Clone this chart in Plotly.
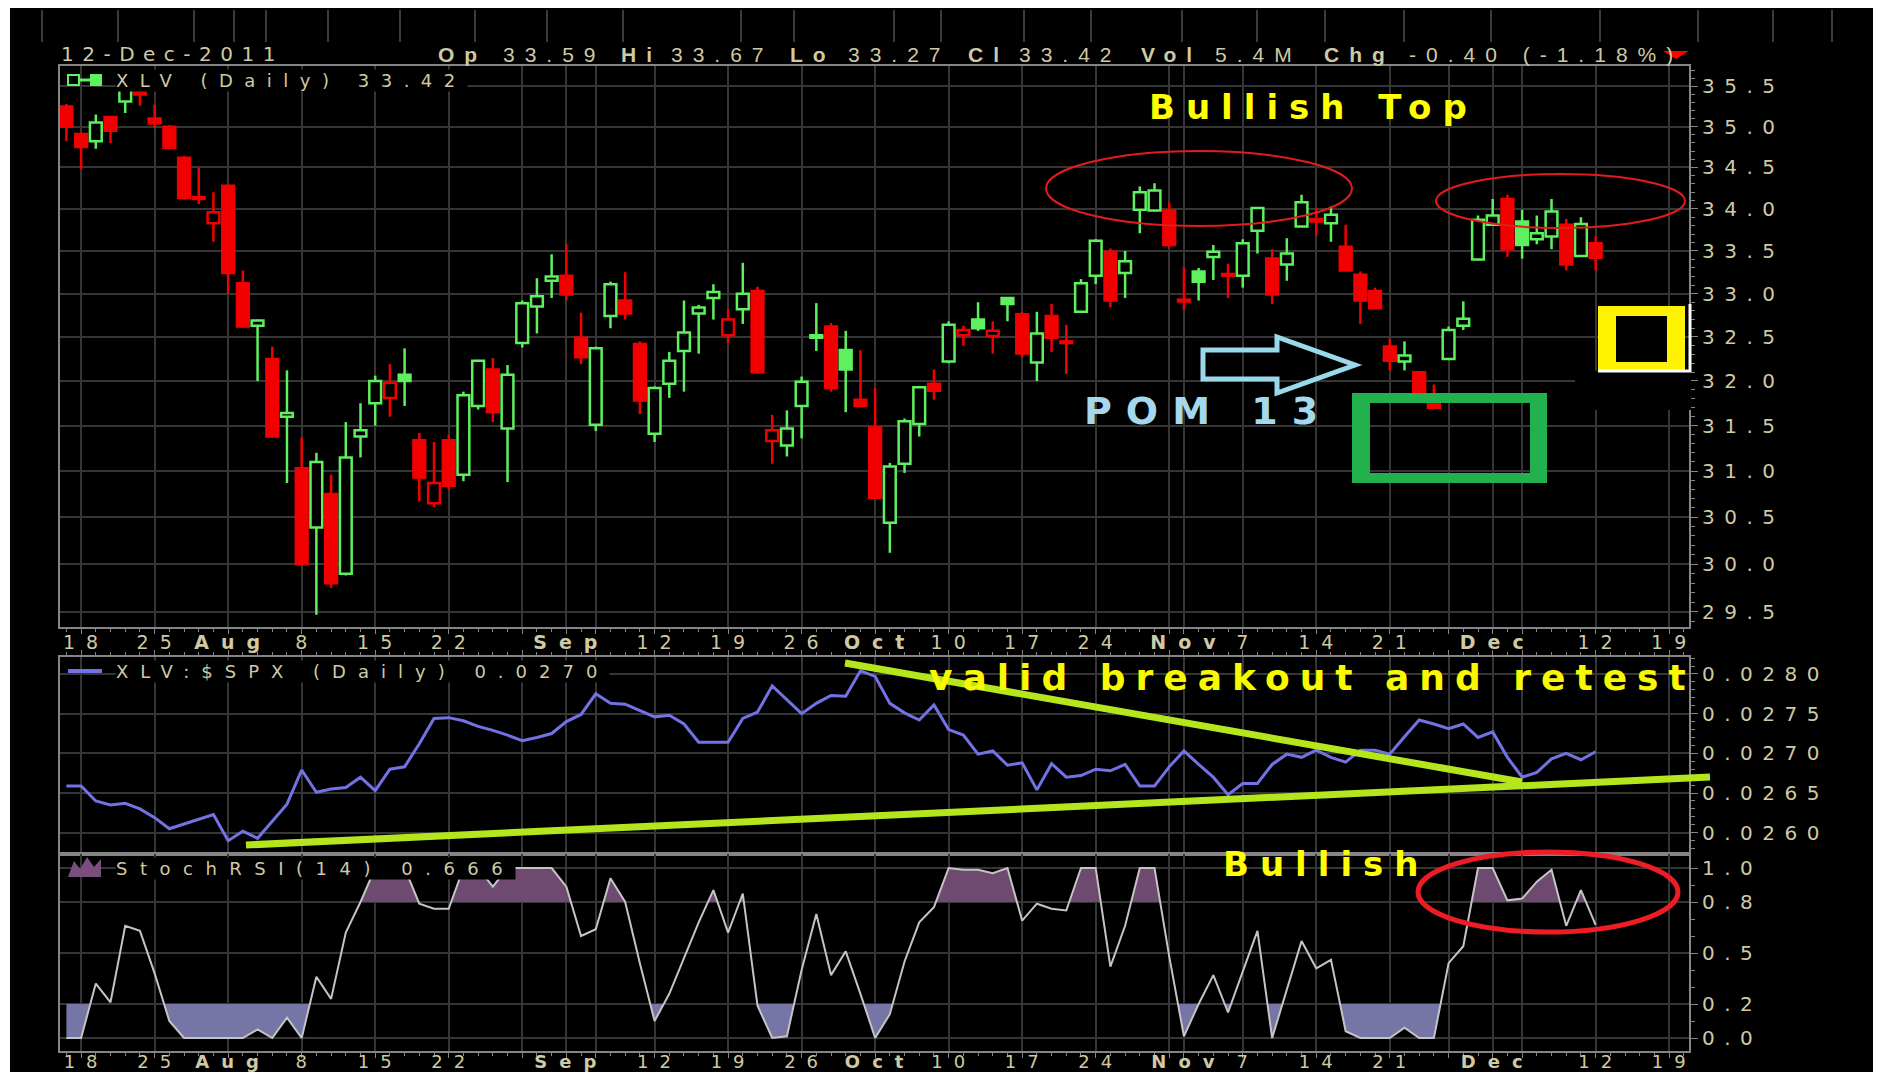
import numpy as np
import pandas as pd
import plotly.graph_objects as go

W, H = 1881, 1080          # browser window
OFF = 8                    # default page margin of the html body
FW, FH = W - 2 * OFF, H - 2 * OFF

# ---------------- data ----------------
holidays = ["2011-09-05", "2011-11-24"]
axis_days = pd.bdate_range("2011-07-15", "2011-12-21")
axis_days = axis_days[~axis_days.isin(pd.to_datetime(holidays))]
day_index = {d.strftime("%Y-%m-%d"): k for k, d in enumerate(axis_days)}

opens = [35.25, 34.91, 34.82, 35.12, 35.31, 35.43, 35.10, 35.00, 34.62, 34.14,
         33.83, 34.28, 33.12, 32.63, 32.25, 31.60, 31.03, 30.39, 30.75, 29.90,
         31.38, 31.75, 31.81, 32.07, 31.34, 30.65, 31.34, 30.96, 31.72, 32.13,
         31.47, 32.43, 32.85, 33.15, 33.21, 32.49, 31.51, 32.74, 32.92, 32.42,
         31.41, 31.97, 32.34, 32.77, 32.95, 32.52, 32.82, 33.03, 31.33, 31.28,
         31.72, 32.49, 32.62, 32.35, 31.79, 31.48, 30.44, 31.08, 31.52, 31.97,
         32.22, 32.52, 32.70, 32.51, 32.95, 32.76, 32.21, 32.74, 32.45, 32.79,
         33.21, 33.49, 33.24, 33.99, 33.98, 33.98, 32.93, 33.26, 33.43, 33.23,
         33.21, 33.74, 33.41, 33.34, 33.79, 33.88, 33.83, 33.55, 33.22, 33.03,
         32.39, 32.22, 32.10, 31.75, 32.25, 32.63, 33.40, 33.81, 34.12, 33.85,
         33.64, 33.67, 33.81, 33.44, 33.59]
highs = [35.28, 34.93, 35.15, 35.13, 35.47, 35.44, 35.27, 35.02, 34.64, 34.50,
         34.20, 34.29, 33.27, 32.70, 32.39, 32.12, 31.37, 31.20, 30.96, 31.54,
         31.75, 32.06, 32.19, 32.37, 31.42, 31.32, 31.40, 31.88, 32.24, 32.26,
         32.18, 32.92, 33.18, 33.46, 33.58, 32.78, 32.39, 33.14, 33.25, 32.45,
         31.94, 32.33, 32.92, 32.87, 33.11, 32.82, 33.36, 33.08, 31.62, 31.67,
         32.05, 32.89, 32.66, 32.57, 32.35, 31.92, 31.09, 31.58, 31.94, 32.13,
         32.68, 32.63, 32.90, 32.68, 32.96, 32.79, 32.79, 32.88, 32.64, 33.17,
         33.64, 33.53, 33.50, 34.27, 34.31, 34.08, 33.31, 33.30, 33.57, 33.35,
         33.64, 34.02, 33.52, 33.65, 34.17, 34.01, 34.03, 33.81, 33.26, 33.07,
         32.48, 32.45, 32.11, 31.96, 32.62, 32.91, 33.92, 34.12, 34.17, 33.99,
         33.92, 34.12, 33.88, 33.90, 33.67]
lows = [34.82, 34.48, 34.73, 34.80, 35.17, 35.26, 34.98, 34.72, 34.11, 34.06,
        33.61, 33.00, 32.60, 32.00, 31.37, 30.87, 29.99, 29.47, 29.75, 29.88,
        31.15, 31.50, 31.60, 31.72, 30.67, 30.61, 30.80, 30.89, 31.68, 31.54,
        30.88, 32.38, 32.54, 32.95, 32.93, 32.19, 31.44, 32.60, 32.70, 31.63,
        31.32, 31.81, 31.88, 32.31, 32.70, 32.43, 32.65, 32.08, 31.08, 31.16,
        31.36, 32.34, 31.88, 31.65, 31.71, 30.69, 30.12, 30.98, 31.38, 31.79,
        32.20, 32.40, 32.57, 32.31, 32.68, 32.27, 32.00, 32.33, 32.08, 32.78,
        33.11, 32.84, 32.95, 33.71, 33.97, 33.54, 32.81, 32.92, 33.16, 32.95,
        33.07, 33.47, 32.88, 33.15, 33.78, 33.68, 33.61, 33.26, 32.65, 32.82,
        32.12, 32.12, 31.80, 31.68, 32.24, 32.58, 33.39, 33.80, 33.43, 33.41,
        33.58, 33.52, 33.27, 33.43, 33.27]
closes = [35.00, 34.75, 35.05, 34.95, 35.46, 35.40, 35.04, 34.74, 34.13, 34.12,
          33.96, 33.24, 32.62, 32.69, 31.38, 31.64, 30.00, 31.10, 29.80, 31.15,
          31.45, 32.00, 31.98, 32.00, 30.93, 30.87, 30.84, 31.84, 32.23, 31.65,
          32.07, 32.89, 32.97, 33.20, 32.99, 32.27, 32.37, 33.11, 32.77, 31.78,
          31.92, 32.23, 32.55, 32.84, 33.02, 32.70, 33.00, 32.10, 31.45, 31.47,
          31.99, 32.52, 31.92, 32.13, 31.72, 30.71, 31.05, 31.55, 31.93, 31.89,
          32.64, 32.58, 32.60, 32.57, 32.88, 32.31, 32.54, 32.49, 32.43, 33.12,
          33.62, 32.92, 33.38, 34.20, 34.22, 33.57, 32.91, 33.14, 33.49, 33.21,
          33.59, 34.01, 32.99, 33.47, 34.08, 33.85, 33.93, 33.27, 32.92, 32.83,
          32.23, 32.29, 31.81, 31.70, 32.58, 32.71, 33.87, 33.92, 33.52, 33.57,
          33.71, 33.97, 33.34, 33.82, 33.42]
prior_close = 35.30
volume_text = "5.4M"

ratio = [0.02659, 0.02659, 0.02640, 0.02635, 0.02637, 0.02630, 0.02619, 0.02605, 0.02611, 0.02617,
         0.02623, 0.02590, 0.02602, 0.02593, 0.02615, 0.02636, 0.02679, 0.02651, 0.02655, 0.02657,
         0.02670, 0.02653, 0.02680, 0.02683, 0.02712, 0.02744, 0.02745, 0.02741, 0.02734, 0.02729,
         0.02723, 0.02716, 0.02720, 0.02725, 0.02740, 0.02749, 0.02775, 0.02763, 0.02762, 0.02754,
         0.02746, 0.02748, 0.02737, 0.02714, 0.02714, 0.02714, 0.02744, 0.02752, 0.02785, 0.02767,
         0.02750, 0.02763, 0.02773, 0.02772, 0.02804, 0.02797, 0.02763, 0.02751, 0.02742, 0.02761,
         0.02730, 0.02723, 0.02699, 0.02703, 0.02685, 0.02688, 0.02654, 0.02687, 0.02670, 0.02672,
         0.02680, 0.02678, 0.02686, 0.02659, 0.02659, 0.02683, 0.02703, 0.02686, 0.02670, 0.02648,
         0.02662, 0.02662, 0.02686, 0.02699, 0.02695, 0.02704, 0.02695, 0.02689, 0.02704, 0.02704,
         0.02699, 0.02721, 0.02742, 0.02737, 0.02731, 0.02737, 0.02720, 0.02727, 0.02695, 0.02670,
         0.02676, 0.02693, 0.02700, 0.02692, 0.02702]

stoch = [0.0, 0.0, 0.32, 0.21, 0.66, 0.63, 0.38, 0.10, 0.0, 0.0,
         0.0, 0.0, 0.0, 0.05, 0.0, 0.12, 0.0, 0.36, 0.23, 0.62,
         0.80, 1.0, 1.0, 1.0, 0.79, 0.76, 0.76, 1.0, 1.0, 0.89,
         1.0, 1.0, 1.0, 1.0, 0.89, 0.60, 0.64, 0.94, 0.80, 0.44,
         0.10, 0.26, 0.47, 0.68, 0.87, 0.62, 0.85, 0.19, 0.0, 0.01,
         0.40, 0.73, 0.37, 0.51, 0.26, 0.0, 0.14, 0.45, 0.68, 0.77,
         1.0, 0.99, 0.99, 0.97, 1.0, 0.69, 0.79, 0.76, 0.75, 1.0,
         1.0, 0.42, 0.66, 1.0, 1.0, 0.48, 0.01, 0.20, 0.37, 0.15,
         0.39, 0.63, 0.0, 0.28, 0.57, 0.41, 0.46, 0.04, 0.0, 0.0,
         0.0, 0.06, 0.0, 0.0, 0.44, 0.54, 1.0, 1.0, 0.81, 0.82,
         0.92, 0.99, 0.66, 0.87, 0.666]

tick_dates = ["2011-07-18", "2011-07-25", "2011-08-01", "2011-08-08", "2011-08-15", "2011-08-22",
              "2011-08-29", "2011-09-01", "2011-09-06", "2011-09-12", "2011-09-19", "2011-09-26",
              "2011-10-03", "2011-10-10", "2011-10-17", "2011-10-24", "2011-10-31", "2011-11-01",
              "2011-11-07", "2011-11-14", "2011-11-21", "2011-11-28", "2011-12-01", "2011-12-05",
              "2011-12-12", "2011-12-19"]
tick_labels = ["18", "25", "Aug", "8", "15", "22", "", "Sep", "", "12", "19", "26",
               "Oct", "10", "17", "24", "", "Nov", "7", "14", "21", "", "Dec", "", "12", "19"]
price_ticks = [29.5, 30.0, 30.5, 31.0, 31.5, 32.0, 32.5, 33.0, 33.5, 34.0, 34.5, 35.0, 35.5]
price_labels = ["29.5", "30.0", "30.5", "31.0", "31.5", "32.0", "32.5", "33.0", "33.5", "34.0", "34.5", "35.0", "35.5"]
ratio_ticks = [0.0260, 0.0265, 0.0270, 0.0275, 0.0280]
ratio_labels = ["0.0260", "0.0265", "0.0270", "0.0275", "0.0280"]
stoch_ticks = [0.0, 0.2, 0.5, 0.8, 1.0]
stoch_labels = ["0.0", "0.2", "0.5", "0.8", "1.0"]

# ---------------- styling ----------------
BG = "#000000"
GRID = "#363636"
FRAME = "#858585"
TXT = "#cfc9a4"
GREEN = "#5ef05e"
RED = "#f20000"
BLUE = "#7272e4"
LIME = "#b5e61d"
FONT = "DejaVu Sans"


def sp(text, px):
    return f'<span style="letter-spacing:{px}px">{text}</span>'


def PX(x):   # window pixel -> paper fraction
    return (x - OFF) / FW


def PY(y):
    return 1 - (y - OFF) / FH


n = len(closes)
x = np.arange(n)
O, Hi, Lo, C = (np.array(v) for v in (opens, highs, lows, closes))
prev = np.concatenate([[prior_close], C[:-1]])
up = C >= prev
hollow = C > O
col = np.where(up, GREEN, RED)
fillc = np.where(hollow, BG, col)
b_lo = np.minimum(O, C)
b_hi = np.maximum(O, C)

tick_idx = [day_index[d] for d in tick_dates]
tick_txt = [sp(f"<b>{t}</b>", 12) if t.isalpha() else sp(t, 11) for t in tick_labels]

fig = go.Figure()

# candle bodies
fig.add_trace(go.Bar(x=x, y=b_hi - b_lo, base=b_lo, width=0.8,
                     marker=dict(color=list(fillc), line=dict(color=list(col), width=2.5)),
                     xaxis="x", yaxis="y", showlegend=False, hoverinfo="skip"))
# wicks
for colour, mask in ((GREEN, up), (RED, ~up)):
    wx, wy = [], []
    for k in np.where(mask)[0]:
        wx += [k, k, None, k, k, None]
        wy += [b_hi[k], Hi[k], None, Lo[k], b_lo[k], None]
    fig.add_trace(go.Scatter(x=wx, y=wy, mode="lines", line=dict(color=colour, width=2.5),
                             xaxis="x", yaxis="y", showlegend=False, hoverinfo="skip"))

# ratio line
fig.add_trace(go.Scatter(x=x, y=ratio, mode="lines", line=dict(color=BLUE, width=3),
                         xaxis="x2", yaxis="y2", showlegend=False, hoverinfo="skip"))


# stoch fills
def band(xs, ys, thr, above):
    bx, by = [], []
    for k in range(len(xs)):
        if k > 0:
            y0, y1 = ys[k - 1], ys[k]
            if (y0 - thr) * (y1 - thr) < 0:
                t = (thr - y0) / (y1 - y0)
                bx.append(xs[k - 1] + t * (xs[k] - xs[k - 1]))
                by.append(thr)
        bx.append(xs[k])
        by.append(ys[k])
    by = np.maximum(by, thr) if above else np.minimum(by, thr)
    return bx, list(by)


for thr, above, fc in ((0.8, True, "#6e4a70"), (0.2, False, "#7676a6")):
    bx, by = band(list(x), stoch, thr, above)
    fig.add_trace(go.Scatter(x=bx, y=[thr] * len(bx), mode="lines", line=dict(width=0, color=fc),
                             xaxis="x3", yaxis="y3", showlegend=False, hoverinfo="skip"))
    fig.add_trace(go.Scatter(x=bx, y=by, mode="lines", line=dict(width=0, color=fc), fill="tonexty",
                             fillcolor=fc, xaxis="x3", yaxis="y3", showlegend=False, hoverinfo="skip"))
fig.add_trace(go.Scatter(x=x, y=stoch, mode="lines", line=dict(color="#c4c4c4", width=2),
                         xaxis="x3", yaxis="y3", showlegend=False, hoverinfo="skip"))

# ---------------- axes ----------------
xr = [-0.47, 110.35]
xd = [PX(59.5), PX(1689)]
tickfont = dict(family=FONT, size=20, color=TXT)


def xaxis(anchor, labels, side="bottom", standoff=-8, size=19):
    return dict(domain=xd, range=xr, anchor=anchor, side=side, tickmode="array", tickvals=tick_idx,
                ticktext=tick_txt if labels else None, showticklabels=labels, tickangle=0, automargin=False,
                ticklabelstandoff=standoff, ticklabelshift=5,
                tickfont=dict(family=FONT, size=size, color=TXT),
                showgrid=True, gridcolor=GRID, gridwidth=2, zeroline=False, showline=True, linecolor=FRAME,
                linewidth=2, mirror=True, ticks="outside", ticklen=5, tickcolor=FRAME, tickwidth=1,
                minor=dict(dtick=1, tick0=0, ticks="outside", ticklen=3, tickcolor=FRAME, showgrid=False),
                fixedrange=True)


def yaxis(anchor, dom, rng, tv, tt, minor_vals, log=False):
    d = dict(domain=dom, range=rng, anchor=anchor, side="right", tickmode="array", tickvals=tv,
             ticktext=[sp(t, 9.5) for t in tt], tickfont=tickfont, showgrid=True, gridcolor=GRID, gridwidth=2,
             zeroline=False, showline=True, linecolor=FRAME, linewidth=2, mirror=True, ticks="outside",
             ticklen=7, tickcolor=FRAME, tickwidth=1, automargin=False,
             minor=dict(tickmode="array", tickvals=minor_vals, ticks="outside", ticklen=4, tickcolor=FRAME,
                        showgrid=False), fixedrange=True)
    if log:
        d["type"] = "log"
    return d


price_minor = list(np.round(np.arange(29.4, 35.75, 0.1), 2))
ratio_minor = list(np.round(np.arange(0.0258, 0.02822, 0.0001), 5))
stoch_minor = list(np.round(np.arange(0.0, 1.01, 0.1), 2))

fig.update_layout(
    width=FW, height=FH, autosize=False, margin=dict(l=0, r=0, t=0, b=0, pad=0),
    paper_bgcolor=BG, plot_bgcolor=BG, barmode="overlay", showlegend=False,
    xaxis=xaxis("y", True),
    xaxis2=xaxis("y2", False, side="top"),
    xaxis3=xaxis("y3", True, standoff=-12, size=18),
    yaxis=yaxis("x", [PY(627), PY(66)], [np.log10(29.343), np.log10(35.756)], price_ticks, price_labels,
                price_minor, log=True),
    yaxis2=yaxis("x2", [PY(854), PY(657)], [0.025732, 0.028214], ratio_ticks, ratio_labels, ratio_minor),
    yaxis3=yaxis("x3", [PY(1051), PY(854)], [-0.0765, 1.0824], stoch_ticks, stoch_labels, stoch_minor),
)

shapes = []


def rect(x0, y0, x1, y1, color, layer="above", line=None):
    shapes.append(dict(type="rect", xref="paper", yref="paper", x0=PX(x0), x1=PX(x1), y0=PY(y0), y1=PY(y1),
                       fillcolor=color, line=line or dict(width=0), layer=layer))


def seg(x0, y0, x1, y1, color, width, dash="solid", layer="above"):
    shapes.append(dict(type="line", xref="paper", yref="paper", x0=PX(x0), x1=PX(x1), y0=PY(y0), y1=PY(y1),
                       line=dict(color=color, width=width, dash=dash), layer=layer))


def path(pts, color=None, line=None):
    d = "M " + " L ".join(f"{PX(a):.5f},{PY(b):.5f}" for a, b in pts) + " Z"
    shapes.append(dict(type="path", xref="paper", yref="paper", path=d,
                       fillcolor=color or "rgba(0,0,0,0)", line=line or dict(width=0)))


# white strip at the left page edge
rect(0, 0, 10, H, "white", layer="below")

# faint marks above the header (remnant of a cropped panel)
for xt in (42, 118, 194, 234, 266, 328, 400, 475, 547, 623, 741, 794, 894, 941, 1024, 1091, 1182,
           1257, 1325, 1404, 1491, 1600, 1698, 1773, 1832):
    seg(xt, 10, xt, 42, "#3c3c3c", 2, layer="below")

# stoch guide lines
for lv, ds, wd in ((0.8, "solid", 2), (0.2, "solid", 2), (0.5, "dashdot", 1.5)):
    shapes.append(dict(type="line", xref="x3 domain", yref="y3", x0=0, x1=1, y0=lv, y1=lv,
                       line=dict(color="#a9a9a9", width=wd, dash=ds), layer="below"))

# header triangle
path([(1663, 51), (1689, 51), (1676, 59)], color="#ff0000")

# legend icons
rect(68, 75, 79, 85, BG, line=dict(color=GREEN, width=2))
seg(79, 80, 90, 80, GREEN, 3)
rect(90, 74, 102, 86, GREEN)
seg(68, 671, 102, 671, BLUE, 4)
path([(68, 877), (74, 861), (80, 869), (87, 857), (94, 867), (101, 859), (101, 877)], color="#7a4f7e")

# ellipses
shapes.append(dict(type="circle", xref="paper", yref="paper", x0=PX(1046), x1=PX(1352), y0=PY(151), y1=PY(226),
                   line=dict(color="#e21c1c", width=2)))
shapes.append(dict(type="circle", xref="paper", yref="paper", x0=PX(1436), x1=PX(1685), y0=PY(174), y1=PY(228),
                   line=dict(color="#e21c1c", width=2)))
shapes.append(dict(type="circle", xref="paper", yref="paper", x0=PX(1418), x1=PX(1678), y0=PY(852), y1=PY(932),
                   line=dict(color="#ee1c24", width=5)))

# arrow
path([(1203, 350), (1277, 350), (1277, 337), (1355, 365), (1277, 393), (1277, 379), (1203, 379)],
     line=dict(color="#99d9ea", width=5))

# green box
for a in ((1352, 393, 1547, 403), (1352, 473, 1547, 483), (1352, 393, 1370, 483), (1530, 393, 1547, 483)):
    rect(*a, "#22b14c")

# patched area + yellow box
rect(1575, 371, 1691, 410, BG)
rect(1598, 306, 1685, 370, "#fff200")
rect(1616, 316, 1667, 362, BG)
seg(1690, 304, 1690, 372, "white", 3)
seg(1598, 371, 1691, 371, "white", 3)

# trend lines
seg(246, 845, 1710, 777, LIME, 7)
seg(845, 663, 1522, 782, LIME, 7)

fig.update_layout(shapes=shapes)

# ---------------- texts ----------------
anns = []


def ann(text, x0, yc, size, color, family=FONT, bg="rgba(0,0,0,0)"):
    anns.append(dict(text=text, x=PX(x0), y=PY(yc), xref="paper", yref="paper", xanchor="left",
                     yanchor="middle", showarrow=False, font=dict(family=family, size=size, color=color),
                     bgcolor=bg, borderpad=0))


last_date = pd.Timestamp(axis_days[n - 1])
ann(sp(last_date.strftime("%d-%b-%Y"), 8.5), 60, 54.5, 20, TXT)
chg = C[-1] - C[-2]
pct = chg / C[-2] * 100
HF = "Liberation Sans"
header = [("Op", 437, True), (f"{O[-1]:.2f}", 502, False), ("Hi", 620, True), (f"{Hi[-1]:.2f}", 670, False),
          ("Lo", 789, True), (f"{Lo[-1]:.2f}", 847, False), ("Cl", 967, True), (f"{C[-1]:.2f}", 1018, False),
          ("Vol", 1140, True), (volume_text, 1214, False), ("Chg", 1323, True),
          (f"{chg:.2f} ({pct:.2f}%)", 1408, False)]
for t, x0, bold in header:
    ann(sp(f"<b>{t}</b>" if bold else t, 10), x0, 54.5, 21, TXT, family=HF)

ann(sp(f"XLV (Daily) {C[-1]:.2f}", 11.5), 115, 80.5, 18, TXT, bg=BG)
ann(sp(f"XLV:$SPX (Daily) {ratio[-1]:.4f}", 12), 115, 671.5, 18, TXT, bg=BG)
ann(sp(f"StochRSI(14) {stoch[-1]:.3f}", 12.5), 115, 868, 18, TXT, bg=BG)

ann(sp("<b>Bullish Top</b>", 11), 1148, 107.5, 34, "#ffff00")
ann(sp("<b>POM 13</b>", 14), 1083, 410.5, 38, "#a3d8ee")
ann(sp("<b>valid breakout and retest</b>", 10), 928, 677, 36, "#f8f800")
ann(sp("<b>Bullish</b>", 11), 1222, 863.5, 34, "#ffff00")

fig.update_layout(annotations=anns)

fig.write_html("out.html", include_plotlyjs=True, full_html=True)
